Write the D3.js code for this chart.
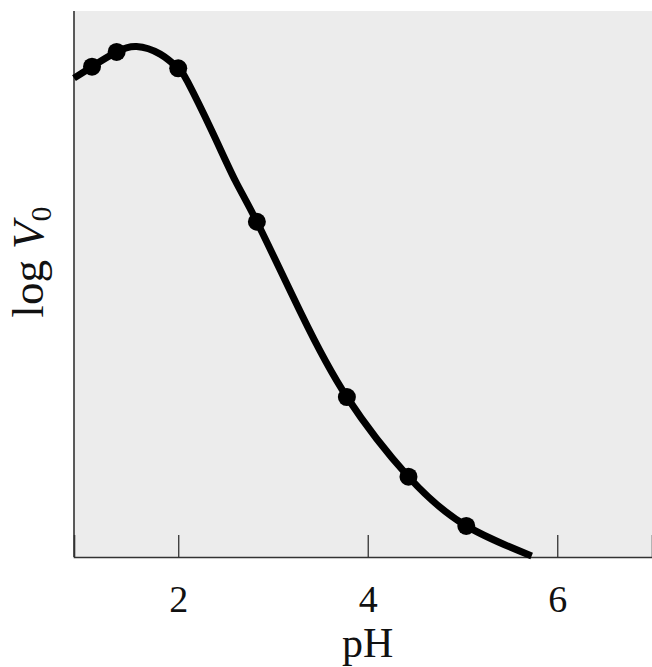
<!DOCTYPE html>
<html lang="en">
<head>
<meta charset="utf-8" />
<title>log V0 vs pH</title>
<script src="https://cdn.jsdelivr.net/npm/d3@7"></script>
<style>
  body { margin: 0; background: #fff; }
  svg { display: block; }
  .tick-label, .axis-title { font-family: "Liberation Serif", "DejaVu Serif", serif; fill: #111; }
</style>
</head>
<body>
<svg id="chart" width="652" height="667"></svg>
<script>
// measured points
const pointPH  = [1.09, 1.35, 2.0, 2.83, 3.78, 4.43, 5.04];
const pointLog = [8.98, 9.25, 8.95, 6.14, 2.93, 1.47, 0.57];

// fitted curve
const curvePH  = [0.9, 1.09, 1.35, 1.56, 1.81, 2.0, 2.10, 2.35, 2.60, 2.83, 3.30, 3.78, 4.43, 5.04, 5.73];
const curveLog = [8.77, 8.98, 9.25, 9.35, 9.21, 8.95, 8.70, 7.82, 6.90, 6.14, 4.45, 2.93, 1.47, 0.57, 0.02];

const xTicks = [2, 4, 6];

const W = 652, H = 667;
const m = {left: 74, right: 0, top: 11, bottom: 110};

const svg = d3.select('#chart');

const x = d3.scaleLinear().domain([0.9, 7]).range([m.left, W - m.right]);
const y = d3.scaleLinear().domain([0, 10]).range([H - m.bottom, m.top]);

/* plot background */
svg.append('rect')
  .attr('x', x.range()[0]).attr('y', m.top)
  .attr('width', x.range()[1] - x.range()[0])
  .attr('height', y(0) - m.top)
  .attr('fill', '#ececec');

/* ---- axes ---- */
const xAxis = d3.axisBottom(x).tickValues(xTicks).tickSize(-22).tickPadding(28).tickFormat(d3.format('d'));
const gx = svg.append('g').attr('transform', `translate(0,${y(0)})`).call(xAxis);
gx.select('.domain').attr('stroke', '#333').attr('stroke-width', 1.6);
gx.selectAll('.tick line').attr('stroke', '#333').attr('stroke-width', 1.3);
gx.selectAll('.tick text')
  .attr('class', 'tick-label')
  .attr('font-size', 38)
  .attr('dy', '0.71em');
gx.attr('font-family', null).attr('font-size', null);

svg.append('line')
  .attr('x1', m.left).attr('x2', m.left)
  .attr('y1', m.top).attr('y2', y(0))
  .attr('stroke', '#333').attr('stroke-width', 1.6);

/* ---- curve ---- */
const curveData = curvePH.map((p, i) => [p, curveLog[i]]);
const line = d3.line()
  .x(d => x(d[0]))
  .y(d => y(d[1]))
  .curve(d3.curveNatural);

svg.append('path')
  .datum(curveData)
  .attr('d', line)
  .attr('fill', 'none')
  .attr('stroke', '#000')
  .attr('stroke-width', 7)
  .attr('stroke-linecap', 'butt');

svg.append('g').selectAll('circle')
  .data(pointPH.map((p, i) => [p, pointLog[i]]))
  .join('circle')
  .attr('cx', d => x(d[0]))
  .attr('cy', d => y(d[1]))
  .attr('r', 9)
  .attr('fill', '#000');

/* ---- titles ---- */
svg.append('text')
  .attr('class', 'axis-title')
  .attr('x', x(4)).attr('y', 657)
  .attr('text-anchor', 'middle')
  .attr('font-size', 42)
  .text('pH');

const yt = svg.append('text')
  .attr('class', 'axis-title')
  .attr('transform', 'translate(43,262) rotate(-90)')
  .attr('text-anchor', 'middle')
  .attr('font-size', 45);
yt.append('tspan').text('log ');
yt.append('tspan').attr('font-style', 'italic').text('V');
yt.append('tspan').attr('font-size', 30).attr('dy', 8).text('0');
</script>
</body>
</html>
